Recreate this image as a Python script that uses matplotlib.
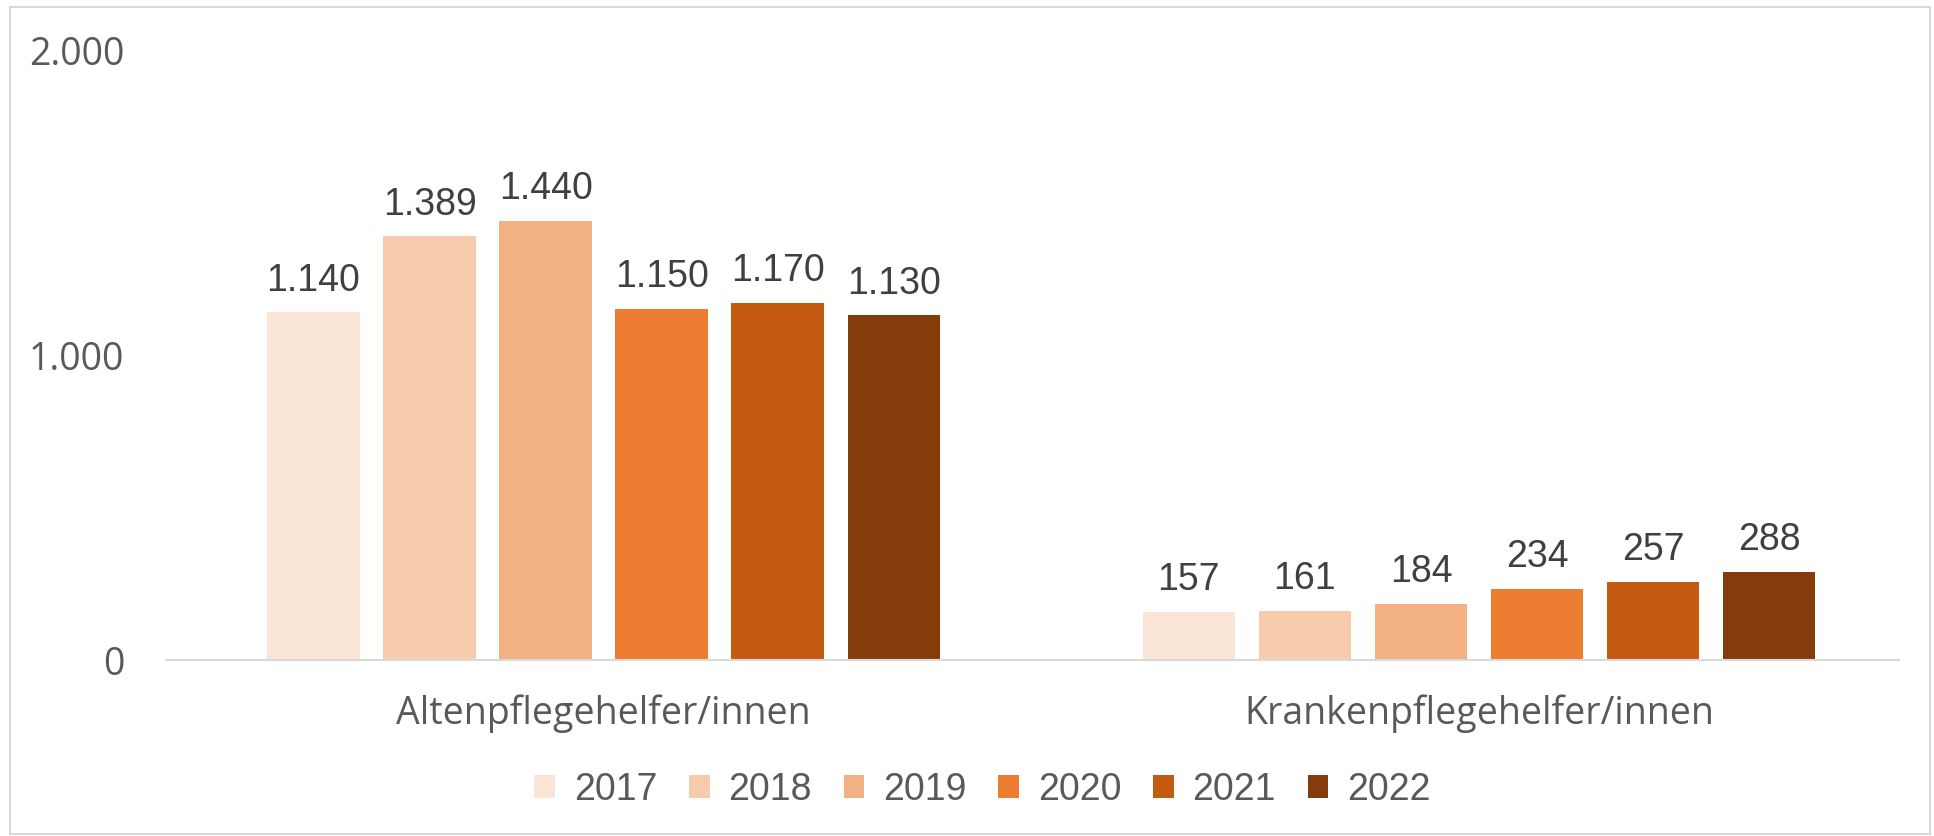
import numpy as np
import matplotlib
matplotlib.use("Agg")
from matplotlib import pyplot as plt
from matplotlib.patches import Rectangle

# Daten
kategorien = ["Altenpflegehelfer/innen", "Krankenpflegehelfer/innen"]
jahre = ["2017", "2018", "2019", "2020", "2021", "2022"]
werte = {
    "2017": [1140, 157],
    "2018": [1389, 161],
    "2019": [1440, 184],
    "2020": [1150, 234],
    "2021": [1170, 257],
    "2022": [1130, 288],
}
farben = ["#FBE5D6", "#F8CBAD", "#F4B183", "#ED7D31", "#C55A11", "#843C0C"]
y_ticks = [0, 1000, 2000]

# Zahlenformat mit Punkt als Tausendertrennzeichen
def de_fmt(v):
    return f"{int(v):,}".replace(",", ".")


schmal = ["Liberation Sans", "DejaVu Sans"]
breit = ["Open Sans", "DejaVu Sans"]

fig = plt.figure(figsize=(19.34, 8.36), dpi=100)
ax = fig.add_axes([0.0858, 0.2105, 0.8962, 0.7295])

# Rahmen um das Diagramm
fig.patches.append(Rectangle((10 / 1934, 0.002), 1920 / 1934, 0.99,
                             transform=fig.transFigure, fill=False,
                             edgecolor="#D9D9D9", linewidth=1.5))

x = np.arange(len(kategorien))
breite = 0.1057
abstand = 0.1326

for i, jahr in enumerate(jahre):
    pos = x + (i - 2.5) * abstand
    bars = ax.bar(pos, werte[jahr], width=breite, color=farben[i], label=jahr)
    for b, v in zip(bars, werte[jahr]):
        ax.annotate(de_fmt(v), (b.get_x() + b.get_width() / 2, v),
                    xytext=(0, 10), textcoords="offset points",
                    ha="center", va="bottom", fontsize=27,
                    color="#404040", family=schmal)

ax.set_xlim(-0.5, 1.48)
ax.set_ylim(0, 2000)
ax.set_yticks(y_ticks)
ax.set_yticklabels([de_fmt(t) for t in y_ticks], family=breit,
                   fontsize=27, color="#595959")
ax.set_xticks(x)
ax.set_xticklabels(kategorien, family=breit, fontsize=27, color="#595959")
ax.tick_params(axis="y", length=0, pad=30)
ax.tick_params(axis="x", length=0, pad=25)

for s in ["top", "right", "left"]:
    ax.spines[s].set_visible(False)
ax.spines["bottom"].set_color("#D9D9D9")
ax.spines["bottom"].set_linewidth(1.5)

# Legende
fig.legend(loc="center", bbox_to_anchor=(0.508, 0.055), ncol=6, frameon=False,
           prop={"family": schmal, "size": 27}, labelcolor="#595959",
           handlelength=0.55, handleheight=0.55, handletextpad=0.5,
           columnspacing=0.85)

plt.savefig("out.png", dpi=100)
